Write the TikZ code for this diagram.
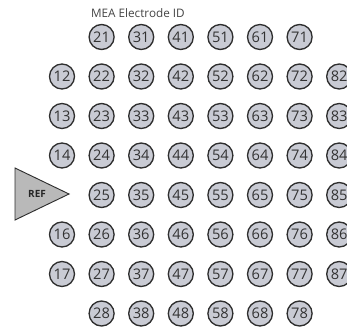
\documentclass[tikz,border=0pt]{standalone}
\usepackage{fontspec}
\setmainfont{Open Sans}

\definecolor{padfill}{HTML}{C9CBD4}
\definecolor{padline}{HTML}{2E2E2E}
\definecolor{reffill}{HTML}{B9B9B9}
\definecolor{titlegray}{HTML}{444444}

\begin{document}
\begin{tikzpicture}[x=0.03cm, y=-0.03cm]

  % Styles
  \tikzset{
    electrode/.style={circle, draw=padline, fill=padfill, line width=1.15pt,
      minimum size=0.75cm, inner sep=0pt, font=\fontsize{12.5}{12.5}\selectfont, text=black!80},
    ref marker/.style={draw=padline, fill=reffill, line width=0.8pt, line join=miter},
    ref label/.style={font=\fontsize{8.5}{8.5}\selectfont\bfseries, text=black!85},
    title label/.style={font=\fontsize{10}{10}\selectfont, text=titlegray, anchor=west}
  }

  % --- PAGE (cut at the right edge like the original) ---
  \clip (0,0) rectangle (347,334);

  % --- TITLE ---
  \node[title label] (title) at (87,13) {MEA Electrode ID};

  % --- ELECTRODE GRID ---
  % Inner columns 2..7, all eight rows
  \foreach \c in {2,...,7}
    \foreach \r in {1,...,8}
      \node[electrode] (e\c\r) at ({62+(\c-1)*39.6}, {37+(\r-1)*39.5}) {\c\r};

  % Outer columns 1 and 8, rows 2..7 (row 5 of column 1 is the reference)
  \foreach \c in {1,8}
    \foreach \r in {2,3,4,6,7}
      \node[electrode] (e\c\r) at ({62+(\c-1)*39.6}, {37+(\r-1)*39.5}) {\c\r};
  \node[electrode] (e85) at ({62+7*39.6}, {37+4*39.5}) {85};

  % --- REFERENCE ELECTRODE ---
  \draw[ref marker] (15,168) -- (69,194) -- (15,220) -- cycle;
  \node[ref label] (ref) at (37,194) {REF};

\end{tikzpicture}
\end{document}
